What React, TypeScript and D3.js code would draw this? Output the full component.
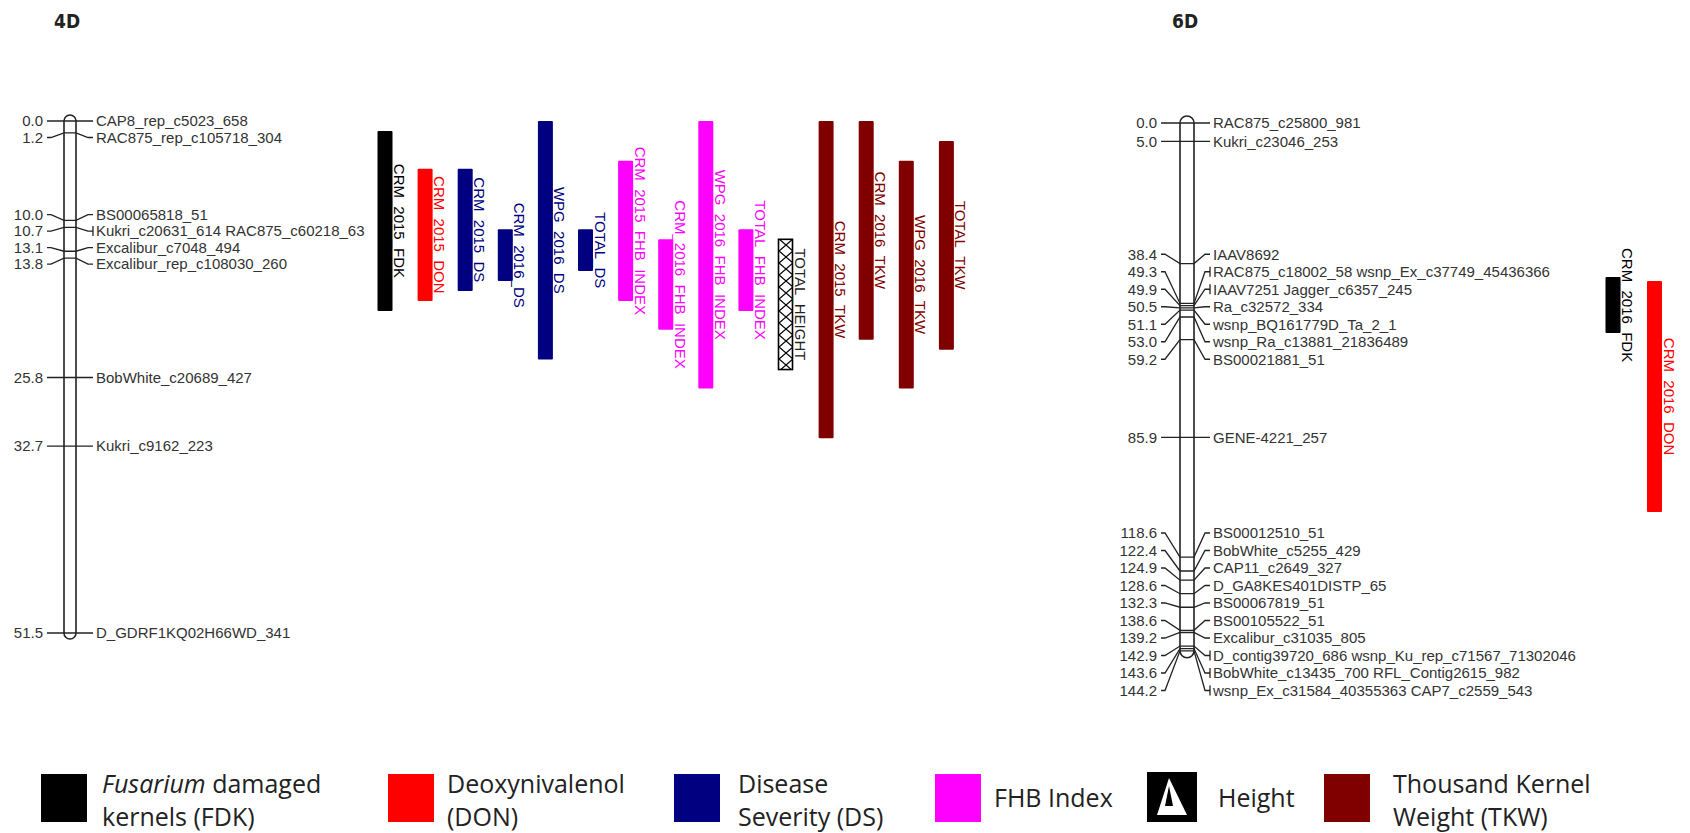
import React from "react";
import * as d3 from "d3";

// linkage group 4D
const pos4D = [0.0, 1.2, 10.0, 10.7, 13.1, 13.8, 25.8, 32.7, 51.5];
const names4D = [
  "CAP8_rep_c5023_658",
  "RAC875_rep_c105718_304",
  "BS00065818_51",
  "Kukri_c20631_614 RAC875_c60218_63",
  "Excalibur_c7048_494",
  "Excalibur_rep_c108030_260",
  "BobWhite_c20689_427",
  "Kukri_c9162_223",
  "D_GDRF1KQ02H66WD_341",
];

// linkage group 6D
const pos6D = [
  0.0, 5.0, 38.4, 49.3, 49.9, 50.5, 51.1, 53.0, 59.2, 85.9, 118.6, 122.4, 124.9,
  128.6, 132.3, 138.6, 139.2, 142.9, 143.6, 144.2,
];
const names6D = [
  "RAC875_c25800_981",
  "Kukri_c23046_253",
  "IAAV8692",
  "RAC875_c18002_58 wsnp_Ex_c37749_45436366",
  "IAAV7251 Jagger_c6357_245",
  "Ra_c32572_334",
  "wsnp_BQ161779D_Ta_2_1",
  "wsnp_Ra_c13881_21836489",
  "BS00021881_51",
  "GENE-4221_257",
  "BS00012510_51",
  "BobWhite_c5255_429",
  "CAP11_c2649_327",
  "D_GA8KES401DISTP_65",
  "BS00067819_51",
  "BS00105522_51",
  "Excalibur_c31035_805",
  "D_contig39720_686 wsnp_Ku_rep_c71567_71302046",
  "BobWhite_c13435_700 RFL_Contig2615_982",
  "wsnp_Ex_c31584_40355363 CAP7_c2559_543",
];

// QTL intervals (cM)
const qtlNames4D = [
  "CRM_2015_FDK", "CRM_2015_DON", "CRM_2015_DS", "CRM_2016_DS", "WPG_2016_DS",
  "TOTAL_DS", "CRM_2015_FHB_INDEX", "CRM_2016_FHB_INDEX", "WPG_2016_FHB_INDEX",
  "TOTAL_FHB_INDEX", "TOTAL_HEIGHT", "CRM_2015_TKW", "CRM_2016_TKW",
  "WPG_2016_TKW", "TOTAL_TKW",
];
const qtlTraits4D = ["FDK", "DON", "DS", "DS", "DS", "DS", "FHB", "FHB", "FHB", "FHB", "HT", "TKW", "TKW", "TKW", "TKW"];
const qtlStart4D = [1.0, 4.8, 4.8, 10.9, 0.0, 10.9, 4.0, 11.9, 0.0, 10.9, 11.9, 0.0, 0.0, 4.0, 2.0];
const qtlEnd4D = [19.1, 18.1, 17.1, 16.1, 24.0, 15.1, 18.1, 21.0, 26.9, 19.1, 25.0, 31.9, 22.0, 26.9, 23.0];

const qtlNames6D = ["CRM_2016_FDK", "CRM_2016_DON"];
const qtlTraits6D = ["FDK", "DON"];
const qtlStart6D = [42.1, 43.2];
const qtlEnd6D = [57.4, 106.3];

// legend
const legendTraits = ["FDK", "DON", "DS", "FHB", "HT", "TKW"];
const legendLines = [
  ["Fusarium| damaged", "kernels (FDK)"],
  ["Deoxynivalenol", "(DON)"],
  ["Disease", "Severity (DS)"],
  ["FHB Index"],
  ["Height"],
  ["Thousand Kernel", "Weight (TKW)"],
];

const traitColor: Record<string, string> = {
  FDK: "#000000",
  DON: "#ff0000",
  DS: "#000080",
  FHB: "#ff00ff",
  HT: "#000000",
  TKW: "#800000",
};

const font = "'Liberation Sans', Arial, sans-serif";
const ink = "#333";

// spread labels so they don't overlap, cluster centred on mean of targets
function spread(targets: number[], gap: number, minY: number) {
  const clusters: { sum: number; n: number; top: number }[] = [];
  targets.forEach((t) => {
    clusters.push({ sum: t, n: 1, top: Math.max(t, minY) });
    while (clusters.length > 1) {
      const a = clusters[clusters.length - 2];
      const b = clusters[clusters.length - 1];
      if (b.top >= a.top + a.n * gap) break;
      const sum = a.sum + b.sum;
      const n = a.n + b.n;
      clusters.splice(clusters.length - 2, 2, {
        sum,
        n,
        top: Math.max(sum / n - ((n - 1) * gap) / 2, minY),
      });
    }
  });
  const out: number[] = [];
  clusters.forEach((c) => {
    for (let k = 0; k < c.n; k++) out.push(c.top + k * gap);
  });
  return out;
}

const Chromosome = ({
  pos, names, y, cx, w, numX, nameX, gap, title, titleX,
}: {
  pos: number[]; names: string[]; y: d3.ScaleLinear<number, number>;
  cx: number; w: number; numX: number; nameX: number; gap: number;
  title: string; titleX: number;
}) => {
  const x0 = cx - w / 2, x1 = cx + w / 2, r = w / 2;
  const yTop = y(pos[0]), yBot = y(pos[pos.length - 1]);
  const labelY = spread(pos.map((p) => y(p)), gap, yTop);
  const fmt = d3.format(".1f");
  const body = `M${x0},${yTop} A${r},${r} 0 0 1 ${x1},${yTop} V${yBot} A${r},${r} 0 0 1 ${x0},${yBot} Z`;
  return (
    <g>
      <text x={titleX} y={28} fontFamily="'Liberation Sans Narrow', 'DejaVu Sans Condensed', Arial" fontWeight="bold" fontSize={19} fill="#222">
        {title}
      </text>
      <path d={body} fill="#fff" stroke="#222" strokeWidth={1.6} />
      {pos.map((p, i) => {
        const my = y(p), ly = labelY[i];
        const multi = names[i].includes(" ");
        return (
          <g key={i} stroke="#222" strokeWidth={1.3} fill="none">
            <path d={`M${numX + 4},${ly} H${numX + 8} L${x0},${my} H${x1} L${nameX - 8},${ly} H${nameX - 3}`} />
            {multi && <line x1={nameX - 3} x2={nameX - 3} y1={ly - 5} y2={ly + 5} />}
            <text x={numX} y={ly} dy="0.36em" textAnchor="end" fontFamily={font} fontSize={15} fill={ink} stroke="none">
              {fmt(p)}
            </text>
            <text x={nameX} y={ly} dy="0.36em" fontFamily={font} fontSize={15} fill={ink} stroke="none">
              {names[i]}
            </text>
          </g>
        );
      })}
    </g>
  );
};

const QtlBars = ({
  labels, traits, start, end, y, x0, step,
}: {
  labels: string[]; traits: string[]; start: number[]; end: number[];
  y: d3.ScaleLinear<number, number>; x0: number; step: number;
}) => {
  const bw = 15;
  return (
    <g>
      {labels.map((lab, i) => {
        const cx = x0 + i * step;
        const bx = cx - bw / 2;
        const y0 = y(start[i]), y1 = y(end[i]);
        const hatch = traits[i] === "HT";
        const col = traitColor[traits[i]];
        return (
          <g key={lab}>
            {hatch ? (
              <rect x={bx} y={y0} width={bw - 1} height={y1 - y0} fill="url(#hatch)" stroke="#000" strokeWidth={1.6} />
            ) : (
              <rect x={bx} y={y0} width={bw} height={y1 - y0} rx={1} fill={col} />
            )}
            <text
              x={bx + bw + 1.5}
              y={(y0 + y1) / 2}
              transform={`rotate(90, ${bx + bw + 1.5}, ${(y0 + y1) / 2})`}
              textAnchor="middle"
              fontFamily={font}
              fontSize={15}
              fill={hatch ? "#222" : col}
            >
              {lab}
            </text>
          </g>
        );
      })}
    </g>
  );
};

const legendX = [41, 388, 674, 935, 1147, 1324];
const legendTextX = [102, 447, 738, 994, 1218, 1393];

const Legend = () => (
  <g fontFamily="'Open Sans', 'Noto Sans', sans-serif" fontSize={25} fill="#222">
    {legendTraits.map((t, i) => {
      const x = legendX[i];
      const lines = legendLines[i];
      return (
        <g key={t}>
          {t === "HT" ? (
            <g>
              <rect x={x} y={772} width={50} height={50} fill="#000" />
              <polygon points={`${x + 10},${x * 0 + 815} ${x + 40},815 ${x + 22},778`} fill="#fff" />
              <polygon points={`${x + 22},786 ${x + 26},806 ${x + 18},806`} fill="#000" />
            </g>
          ) : (
            <rect x={x} y={774} width={46} height={48} fill={traitColor[t]} />
          )}
          {lines.length === 1 ? (
            <text x={legendTextX[i]} y={807}>{lines[0]}</text>
          ) : (
            lines.map((ln, k) => {
              const parts = ln.split("|");
              return (
                <text key={k} x={legendTextX[i]} y={793 + k * 33}>
                  {parts.length > 1 ? (
                    <>
                      <tspan fontStyle="italic">{parts[0]}</tspan>
                      {parts[1]}
                    </>
                  ) : (
                    ln
                  )}
                </text>
              );
            })
          )}
        </g>
      );
    })}
  </g>
);

export default function App() {
  const y4D = d3.scaleLinear().domain([0, 51.5]).range([121, 633]);
  const y6D = d3.scaleLinear().domain([0, 144.2]).range([123, 650.8]);

  return (
    <svg width={1690} height={833} style={{ position: "absolute", left: 0, top: 0, background: "#fff" }}>
      <defs>
        <pattern id="hatch" patternUnits="userSpaceOnUse" x={779} y={239} width={14} height={12}>
          <rect width={14} height={12} fill="#fff" />
          <path d="M0,0 L14,12 M14,0 L0,12" stroke="#000" strokeWidth={1.3} />
        </pattern>
      </defs>
      <Chromosome pos={pos4D} names={names4D} y={y4D} cx={70} w={12} numX={43} nameX={96} gap={16.5} title="4D" titleX={54} />
      <QtlBars labels={qtlNames4D} traits={qtlTraits4D} start={qtlStart4D} end={qtlEnd4D} y={y4D} x0={385} step={40.1} />
      <Chromosome pos={pos6D} names={names6D} y={y6D} cx={1187} w={14} numX={1157} nameX={1213} gap={17.5} title="6D" titleX={1172} />
      <QtlBars labels={qtlNames6D} traits={qtlTraits6D} start={qtlStart6D} end={qtlEnd6D} y={y6D} x0={1613} step={41.5} />
      <Legend />
    </svg>
  );
}
